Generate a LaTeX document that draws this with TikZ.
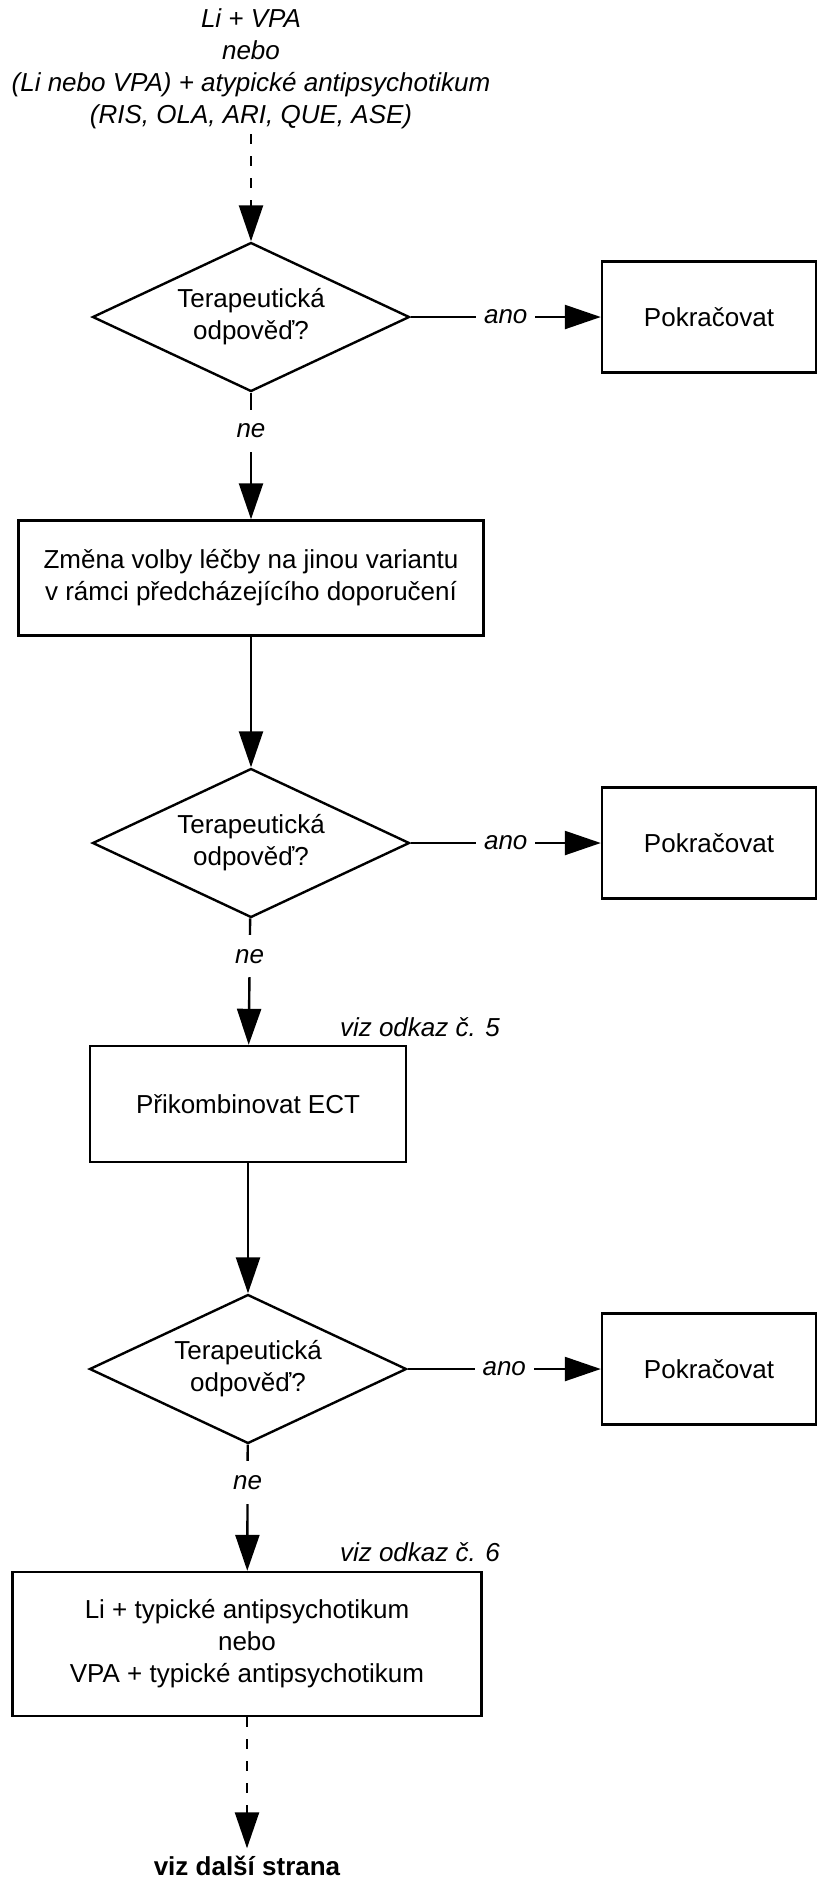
\documentclass[tikz,border=0pt]{standalone}
\usepackage{fontspec}
\setmainfont{Liberation Sans}
\usetikzlibrary{shapes.geometric,arrows.meta}

\begin{document}
\begin{tikzpicture}[x=0.5pt,y=-0.5pt,line width=1.2pt,font=\fontsize{13}{16}\selectfont,
  box/.style={draw,align=center,inner sep=0pt},
  answer/.style={box,minimum width=107pt,minimum height=55.5pt},
  decision/.style={draw,shape=diamond,aspect=2,inner sep=0pt,align=center,minimum width=158.5pt,minimum height=74.5pt},
  flow/.style={-{Triangle[length=18pt,width=12pt]}},
  lbl/.style={fill=white,inner xsep=4pt,inner ysep=3pt,font=\fontsize{13}{16}\selectfont\itshape},
  nolbl/.style={lbl,pos=0.3,inner ysep=7pt},
  ref/.style={inner sep=0pt,font=\fontsize{13}{16}\selectfont\itshape},
  dotline/.style={dash pattern=on 5pt off 6pt}]
\useasboundingbox (0,0) rectangle (819,1881);
\node[align=center,inner sep=2pt,font=\fontsize{13}{16}\selectfont\itshape] (start) at (251,69) {Li + VPA\\nebo\\(Li nebo VPA) + atypické antipsychotikum\\(RIS, OLA, ARI, QUE, ASE)};
% first try
\node[decision] (d1) at (251,317) {Terapeutická\\odpověď?};
\node[answer] (p1) at (709,317) {Pokračovat};
\node[box,minimum width=232.5pt,minimum height=57.5pt] (change) at (251,578) {Změna volby léčby na jinou variantu\\v rámci předcházejícího doporučení};
% second try
\node[decision] (d2) at (251,843) {Terapeutická\\odpověď?};
\node[answer] (p2) at (709,843) {Pokračovat};
\node[box,minimum width=158pt,minimum height=58pt] (ect) at (248,1104) {Přikombinovat ECT};
\node[ref] at (420,1027) {viz odkaz č. 5};
% third try
\node[decision] (d3) at (248,1369) {Terapeutická\\odpověď?};
\node[answer] (p3) at (709,1369) {Pokračovat};
\node[box,minimum width=234.5pt,minimum height=72pt] (typical) at (247,1644) {Li + typické antipsychotikum\\nebo\\VPA + typické antipsychotikum};
\node[ref] at (420,1552) {viz odkaz č. 6};
\node[font=\fontsize{13}{16}\selectfont\bfseries] (next) at (247,1866) {viz další strana};
% connectors
\draw[flow,dotline] (start) -- (d1);
\draw[flow] (d1) -- node[lbl]{ano} (p1);
\draw[flow] (d1) -- node[nolbl]{ne} (change);
\draw[flow] (change) -- (d2);
\draw[flow] (d2) -- node[lbl]{ano} (p2);
\draw[flow] (d2) -- node[nolbl]{ne} (ect);
\draw[flow] (ect) -- (d3);
\draw[flow] (d3) -- node[lbl]{ano} (p3);
\draw[flow] (d3) -- node[nolbl]{ne} (typical);
\draw[flow,dotline] (typical) -- (next);
\end{tikzpicture}
\end{document}
